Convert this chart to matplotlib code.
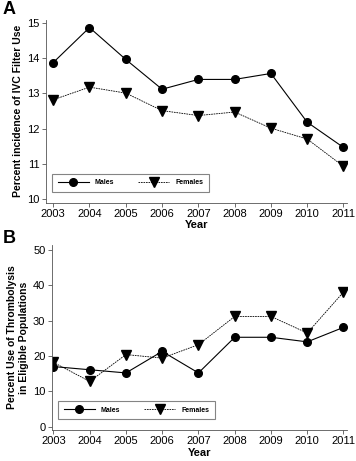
import numpy as np
import matplotlib
matplotlib.use("Agg")
import matplotlib.pyplot as plt

plt.rcParams['font.family'] = ['Liberation Sans', 'DejaVu Sans']

years = [2003, 2004, 2005, 2006, 2007, 2008, 2009, 2010, 2011]

## panel A: IVC filter use
ivc_males = [13.88, 14.88, 13.97, 13.12, 13.40, 13.40, 13.57, 12.18, 11.46]
ivc_females = [12.82, 13.18, 13.01, 12.51, 12.37, 12.47, 12.01, 11.70, 10.92]

## panel B: thrombolysis
thr_males = [17.0, 16.1, 15.2, 21.3, 15.2, 25.3, 25.3, 24.0, 28.1]
thr_females = [18.2, 12.8, 20.4, 19.4, 23.2, 31.2, 31.2, 26.5, 38.1]

fig = plt.figure(figsize=(3.56, 4.61), dpi=100)
ax1 = fig.add_axes([0.128, 0.560, 0.847, 0.397])
ax2 = fig.add_axes([0.145, 0.067, 0.830, 0.402])


def style(ax, males, females, ylabel, yticks, ylim, xlim):
    ax.plot(years, males, color='black', linestyle='-', linewidth=0.8,
            marker='o', markersize=5.5, label='Males')
    ax.plot(years, females, color='black', linestyle='--', linewidth=0.6,
            dashes=(2, 1), marker='v', markersize=6.5, label='Females')
    ax.set_xlim(xlim)
    ax.set_ylim(ylim)
    ax.set_xticks(years)
    ax.set_yticks(yticks)
    ax.spines['top'].set_visible(False)
    ax.spines['right'].set_visible(False)
    for s in ['left', 'bottom']:
        ax.spines[s].set_linewidth(0.6)
        ax.spines[s].set_color('#555555')
    ax.tick_params(labelsize=8, width=0.6, length=3, pad=1.5, color='#555555')
    ax.set_xlabel('Year', fontsize=8, fontweight='bold', labelpad=1)
    ax.set_ylabel(ylabel, fontsize=7.5, fontweight='bold', labelpad=3)
    lg = ax.legend(loc='lower left', ncol=2, prop={'weight': 'bold', 'size': 5},
                   frameon=True, fancybox=False, edgecolor='#666666',
                   handlelength=4.5, columnspacing=3.5, borderpad=0.8,
                   bbox_to_anchor=(0.01, 0.04))
    lg.get_frame().set_linewidth(0.8)


style(ax1, ivc_males, ivc_females, 'Percent incidence of IVC Filter Use',
      [10, 11, 12, 13, 14, 15], (9.88, 15.1), (2002.79, 2011.1))
style(ax2, thr_males, thr_females,
      'Percent Use of Thrombolysis\nin Eligible Populations',
      [0, 10, 20, 30, 40, 50], (-1.0, 51.5), (2002.95, 2011.1))

fig.text(0.008, 0.998, 'A', fontsize=13, fontweight='bold', va='top')
fig.text(0.008, 0.502, 'B', fontsize=13, fontweight='bold', va='top')

fig.savefig('out.png', dpi=100)
